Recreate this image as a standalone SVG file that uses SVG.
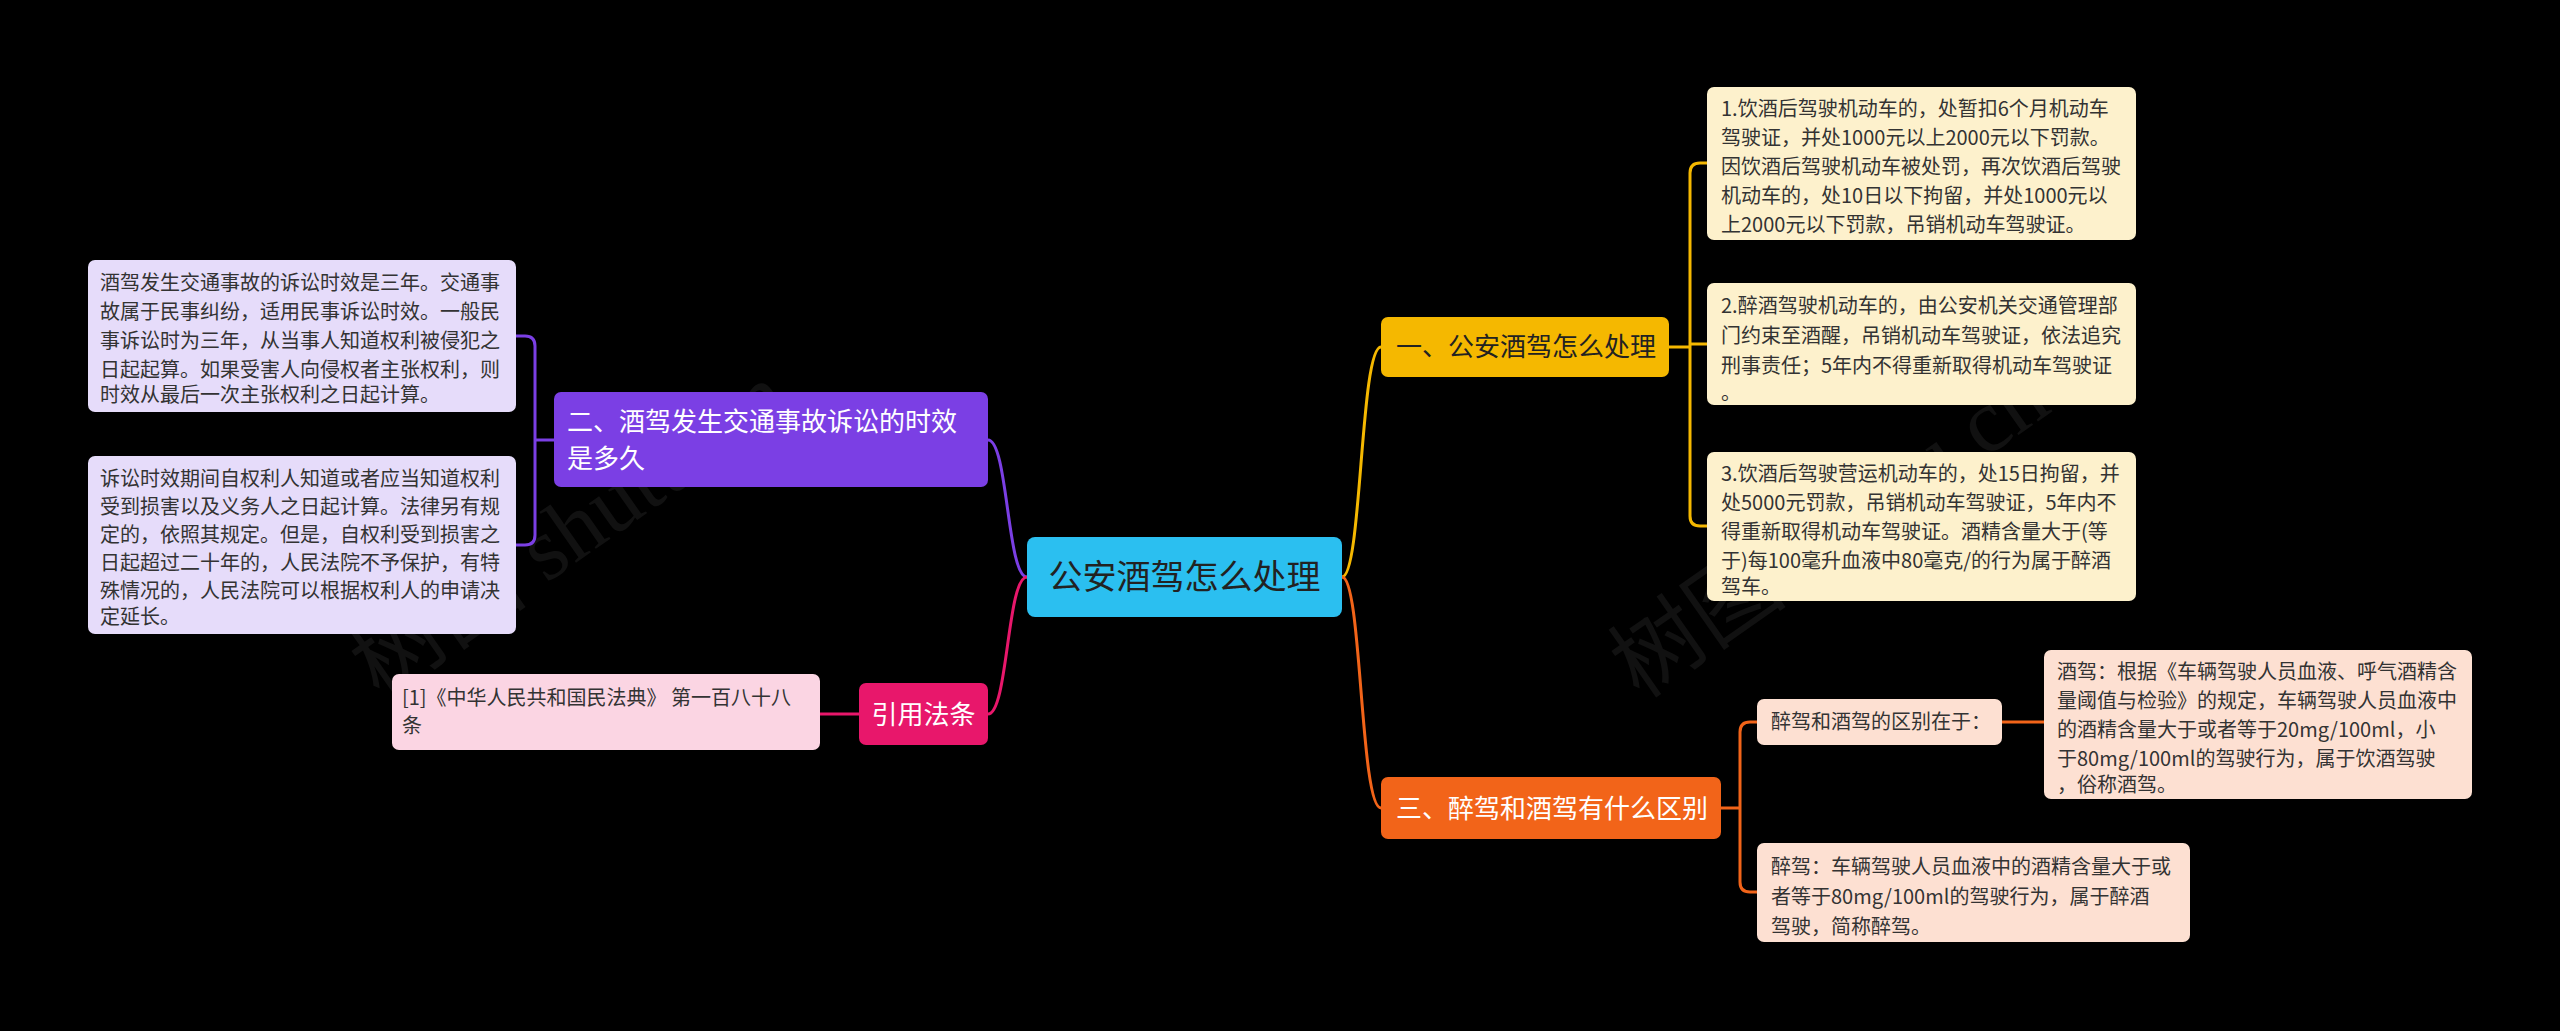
<svg xmlns="http://www.w3.org/2000/svg" width="2560" height="1031" viewBox="0 0 2560 1031">
<style>
text{font-family:"Noto Sans CJK SC","Liberation Sans",sans-serif;}
.s{font-size:20px;fill:#333;}
.l1{font-size:26px;}
.c{fill:none;stroke-width:3;}
.wm{font-size:90px;fill:#888;opacity:0.12;font-family:"Liberation Serif","Noto Sans CJK SC",serif;}
</style>
<rect width="2560" height="1031" fill="#000"/>
<g id="watermarks">
<text class="wm" transform="translate(380,700) rotate(-35)">树图 shutu.cn</text>
<text class="wm" transform="translate(1640,700) rotate(-35)">树图 shutu.cn</text>
</g>
<g id="connectors">
<path class="c" stroke="#f5b800" d="M1342,577 C1362,577 1360,347 1381,347"/>
<path class="c" stroke="#f26419" d="M1342,577 C1362,577 1360,808 1381,808"/>
<path class="c" stroke="#7b3fe4" d="M1027,577 C1007,577 1008,440 988,440"/>
<path class="c" stroke="#e8176b" d="M1027,577 C1007,577 1008,714 988,714"/>
<path class="c" stroke="#f5b800" d="M1669,347 H1690 M1707,163 H1700 Q1690,163 1690,173 V516 Q1690,526 1700,526 H1707 M1690,344 H1707"/>
<path class="c" stroke="#f26419" d="M1721,808 H1740 M1757,722 H1750 Q1740,722 1740,732 V882 Q1740,892 1750,892 H1757"/>
<path class="c" stroke="#f26419" d="M2002,722 H2044"/>
<path class="c" stroke="#7b3fe4" d="M554,440 H535 M516,336 H525 Q535,336 535,346 V535 Q535,545 525,545 H516"/>
<path class="c" stroke="#e8176b" d="M859,714 H820"/>
</g>
<g id="center">
<rect x="1027" y="537" width="315" height="80" rx="8" fill="#2bbff0"/>
<text x="1184.5" y="589" text-anchor="middle" font-size="34" fill="#222">公安酒驾怎么处理</text>
</g>
<g id="n1">
<rect x="1381" y="317" width="288" height="60" rx="7" fill="#f5b800"/>
<text x="1396" y="356" class="l1" fill="#222">一、公安酒驾怎么处理</text>
</g>
<g id="n1a">
<rect x="1707" y="87" width="429" height="153" rx="7" fill="#fdf1cc"/>
<text class="s"><tspan x="1721" y="116">1.饮酒后驾驶机动车的，处暂扣6个月机动车</tspan><tspan x="1721" y="145">驾驶证，并处1000元以上2000元以下罚款。</tspan><tspan x="1721" y="174">因饮酒后驾驶机动车被处罚，再次饮酒后驾驶</tspan><tspan x="1721" y="203">机动车的，处10日以下拘留，并处1000元以</tspan><tspan x="1721" y="232">上2000元以下罚款，吊销机动车驾驶证。</tspan></text>
</g>
<g id="n1b">
<rect x="1707" y="283" width="429" height="122" rx="7" fill="#fdf1cc"/>
<text class="s"><tspan x="1721" y="313">2.醉酒驾驶机动车的，由公安机关交通管理部</tspan><tspan x="1721" y="343">门约束至酒醒，吊销机动车驾驶证，依法追究</tspan><tspan x="1721" y="373">刑事责任；5年内不得重新取得机动车驾驶证</tspan><tspan x="1721" y="400">。</tspan></text>
</g>
<g id="n1c">
<rect x="1707" y="452" width="429" height="149" rx="7" fill="#fdf1cc"/>
<text class="s"><tspan x="1721" y="481">3.饮酒后驾驶营运机动车的，处15日拘留，并</tspan><tspan x="1721" y="510">处5000元罚款，吊销机动车驾驶证，5年内不</tspan><tspan x="1721" y="539">得重新取得机动车驾驶证。酒精含量大于(等</tspan><tspan x="1721" y="568">于)每100毫升血液中80毫克/的行为属于醉酒</tspan><tspan x="1721" y="594">驾车。</tspan></text>
</g>
<g id="n3">
<rect x="1381" y="777" width="340" height="62" rx="7" fill="#f26419"/>
<text x="1396" y="818" class="l1" fill="#fff">三、醉驾和酒驾有什么区别</text>
</g>
<g id="n3a">
<rect x="1757" y="699" width="245" height="46" rx="7" fill="#fde0d2"/>
<text x="1771" y="729" class="s">醉驾和酒驾的区别在于：</text>
</g>
<g id="n3a1">
<rect x="2044" y="650" width="428" height="149" rx="7" fill="#fde0d2"/>
<text class="s"><tspan x="2057" y="679">酒驾：根据《车辆驾驶人员血液、呼气酒精含</tspan><tspan x="2057" y="708">量阈值与检验》的规定，车辆驾驶人员血液中</tspan><tspan x="2057" y="737">的酒精含量大于或者等于20mg/100ml，小</tspan><tspan x="2057" y="766">于80mg/100ml的驾驶行为，属于饮酒驾驶</tspan><tspan x="2057" y="792">，俗称酒驾。</tspan></text>
</g>
<g id="n3b">
<rect x="1757" y="843" width="433" height="99" rx="7" fill="#fde0d2"/>
<text class="s"><tspan x="1771" y="874">醉驾：车辆驾驶人员血液中的酒精含量大于或</tspan><tspan x="1771" y="904">者等于80mg/100ml的驾驶行为，属于醉酒</tspan><tspan x="1771" y="934">驾驶，简称醉驾。</tspan></text>
</g>
<g id="n2">
<rect x="554" y="392" width="434" height="95" rx="7" fill="#7b3fe4"/>
<text class="l1" fill="#fff"><tspan x="567" y="431">二、酒驾发生交通事故诉讼的时效</tspan><tspan x="567" y="468">是多久</tspan></text>
</g>
<g id="n2a">
<rect x="88" y="260" width="428" height="152" rx="7" fill="#e6dcfa"/>
<text class="s"><tspan x="100" y="290">酒驾发生交通事故的诉讼时效是三年。交通事</tspan><tspan x="100" y="319">故属于民事纠纷，适用民事诉讼时效。一般民</tspan><tspan x="100" y="348">事诉讼时为三年，从当事人知道权利被侵犯之</tspan><tspan x="100" y="377">日起起算。如果受害人向侵权者主张权利，则</tspan><tspan x="100" y="402">时效从最后一次主张权利之日起计算。</tspan></text>
</g>
<g id="n2b">
<rect x="88" y="456" width="428" height="178" rx="7" fill="#e6dcfa"/>
<text class="s"><tspan x="100" y="486">诉讼时效期间自权利人知道或者应当知道权利</tspan><tspan x="100" y="514">受到损害以及义务人之日起计算。法律另有规</tspan><tspan x="100" y="542">定的，依照其规定。但是，自权利受到损害之</tspan><tspan x="100" y="570">日起超过二十年的，人民法院不予保护，有特</tspan><tspan x="100" y="598">殊情况的，人民法院可以根据权利人的申请决</tspan><tspan x="100" y="624">定延长。</tspan></text>
</g>
<g id="n4">
<rect x="859" y="683" width="129" height="62" rx="7" fill="#e8176b"/>
<text x="923.5" y="724" text-anchor="middle" class="l1" fill="#fff">引用法条</text>
</g>
<g id="n4a">
<rect x="392" y="674" width="428" height="76" rx="7" fill="#fbd5e3"/>
<text class="s"><tspan x="402" y="705">[1]《中华人民共和国民法典》 第一百八十八</tspan><tspan x="402" y="733">条</tspan></text>
</g>
</svg>
